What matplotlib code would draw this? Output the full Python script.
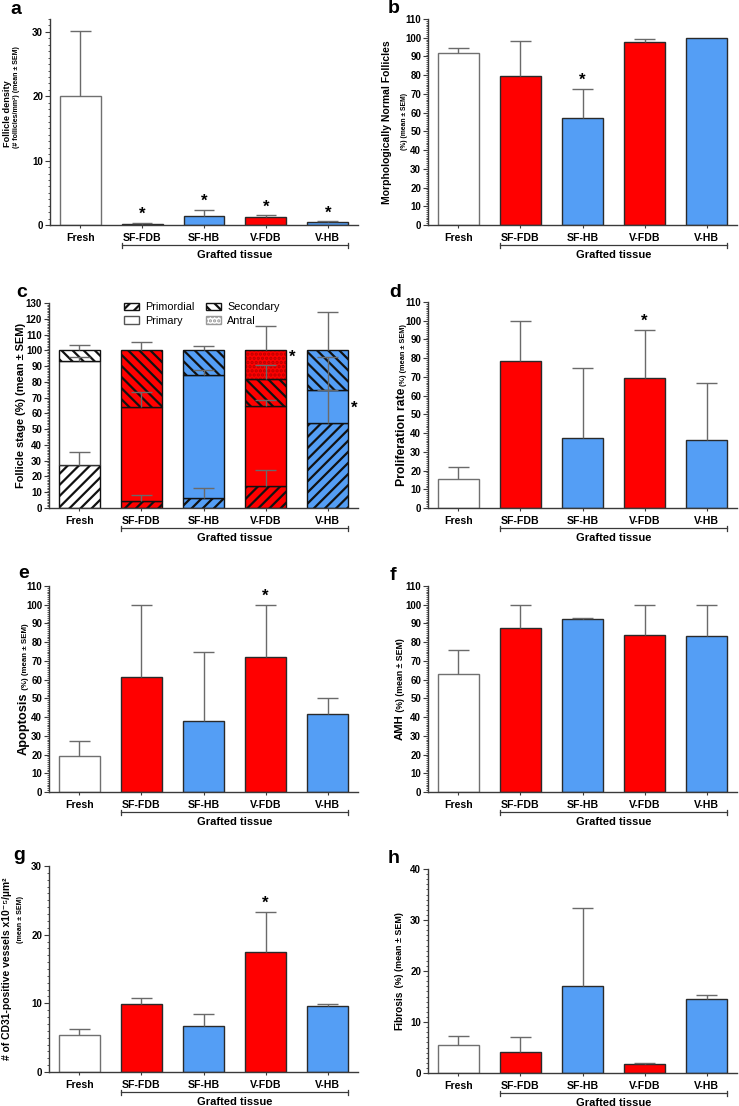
import numpy as np
import matplotlib
matplotlib.use('Agg')
import matplotlib.pyplot as plt
from matplotlib.ticker import MultipleLocator
from matplotlib.patches import Patch
import matplotlib.transforms as mtransforms

plt.rcParams['font.family'] = ['Liberation Sans', 'DejaVu Sans']
plt.rcParams['hatch.linewidth'] = 1.6

groups = ['Fresh', 'SF-FDB', 'SF-HB', 'V-FDB', 'V-HB']

WHITE = '#ffffff'
RED   = '#ff0000'
BLUE  = '#549ef5'
bar_colors = [WHITE, RED, BLUE, RED, BLUE]

# a - follicle density
dens_mean = [20.0, 0.15, 1.4, 1.2, 0.45]
dens_top  = [30.2, 0.3, 2.4, 1.5, 0.6]
dens_star = [False, True, True, True, True]

# b - morphologically normal follicles
norm_mean = [92.0, 79.7, 57.3, 97.7, 100.0]
norm_top  = [94.3, 98.0, 72.7, 99.4, 100.0]
norm_star = [False, False, True, False, False]

# c - follicle stage (stacked)
primordial = [27.0, 4.5, 6.5, 14.0, 54.0]
primary    = [66.5, 59.5, 78.0, 50.5, 21.0]
secondary  = [6.5, 36.0, 15.5, 17.5, 25.0]
antral     = [0.0, 0.0, 0.0, 18.0, 0.0]
primordial_top = [35.6, 8.3, 12.8, 24.0, 75.0]
primary_top    = [96.0, 73.5, 87.5, 68.8, 96.0]
secondary_top  = [103.3, 105.5, 102.8, 91.0, 124.6]
antral_top     = [0.0, 0.0, 0.0, 115.6, 0.0]
stage_star_y   = [None, None, None, 95.5, 63.0]

# d - proliferation
prol_mean = [15.5, 78.5, 37.5, 69.3, 36.5]
prol_top  = [21.7, 100.0, 75.0, 95.2, 66.7]
prol_star = [False, False, False, True, False]

# e - apoptosis
apo_mean = [19.2, 61.2, 37.7, 72.2, 41.8]
apo_top  = [27.2, 100.0, 75.0, 100.0, 50.2]
apo_star = [False, False, False, True, False]

# f - AMH
amh_mean = [62.8, 87.7, 92.5, 84.0, 83.5]
amh_top  = [76.0, 100.0, 93.0, 100.0, 100.0]
amh_star = [False] * 5

# g - CD31 vessels
cd31_mean = [5.35, 9.85, 6.7, 17.5, 9.55]
cd31_top  = [6.3, 10.8, 8.45, 23.35, 9.9]
cd31_star = [False, False, False, True, False]

# h - fibrosis
fib_mean = [5.55, 4.2, 17.1, 1.7, 14.5]
fib_top  = [7.3, 7.1, 32.3, 2.05, 15.2]
fib_star = [False] * 5

W, H = 739, 1106
fig = plt.figure(figsize=(W / 100, H / 100), dpi=100)

AXC = '#3a3a3a'
ERRC = '#6a6a6a'
BW = 0.66

def add_ax(x0, x1, ytop, ybot):
    return fig.add_axes([x0 / W, 1 - ybot / H, (x1 - x0) / W, (ybot - ytop) / H])

def style_ax(ax, ymax, major=10, minor=1):
    ax.set_xlim(-0.49, 4.49)
    ax.set_ylim(0, ymax)
    for s in ['top', 'right']:
        ax.spines[s].set_visible(False)
    for s in ['left', 'bottom']:
        ax.spines[s].set_color(AXC)
        ax.spines[s].set_linewidth(1.0)
    ax.yaxis.set_major_locator(MultipleLocator(major))
    ax.yaxis.set_minor_locator(MultipleLocator(minor))
    ax.tick_params(axis='y', which='major', length=3.5, width=0.8, color=AXC,
                   labelsize=7, pad=1.5)
    ax.tick_params(axis='y', which='minor', length=1.8, width=0.6, color=AXC)
    ax.set_xticks(range(len(groups)))
    ax.set_xticklabels(groups, fontsize=7.6, fontweight='bold')
    ax.tick_params(axis='x', length=2.5, width=0.8, color=AXC, pad=3)
    for lab in ax.get_yticklabels():
        lab.set_fontweight('bold')

def grafted(ax):
    h_px = ax.get_position().height * H
    trans = mtransforms.blended_transform_factory(ax.transData, ax.transAxes)
    y = -20 / h_px
    d = 2.5 / h_px
    x0, x1 = 1 - BW / 2, 4 + BW / 2
    ax.plot([x0, x1], [y, y], color=AXC, lw=0.9, transform=trans, clip_on=False)
    for xx in (x0, x1):
        ax.plot([xx, xx], [y - d, y + d], color=AXC, lw=0.9, transform=trans, clip_on=False)
    ax.text(2.5, -30 / h_px, 'Grafted tissue', transform=trans, ha='center', va='center',
            fontsize=8, fontweight='bold')

def err_up(ax, x, lo, hi, color=ERRC, cw=0.165):
    if hi > lo:
        ax.vlines(x, lo, hi, color=color, lw=1.0, zorder=4)
        ax.hlines(hi, x - cw, x + cw, color=color, lw=1.0, zorder=4)

def star(ax, x, y):
    ax.annotate('*', xy=(x, y), xytext=(0, 6), textcoords='offset points',
                ha='center', va='center', fontsize=12, fontweight='bold')

def ylab(ax, x_px, parts, center=0.5):
    # rotated label made of pieces with different sizes, sharing one baseline
    r = fig.canvas.get_renderer()
    w_px = ax.get_position().width * W
    texts = []
    for s, fs in parts:
        t = ax.text(x_px / w_px, 0, s, transform=ax.transAxes, rotation=90,
                    rotation_mode='anchor', ha='left', va='baseline',
                    fontsize=fs, fontweight='bold')
        texts.append(t)
    axh = ax.get_window_extent(r).height
    lens = [t.get_window_extent(r).height / axh for t in texts]
    y = center - sum(lens) / 2
    for t, L in zip(texts, lens):
        t.set_y(y)
        y += L

def bar_panel(ax, mean, top, stars, ymax, major=10):
    x = np.arange(len(groups))
    edges = ['#707070' if c == WHITE else '#2a2a2a' for c in bar_colors]
    ax.bar(x, mean, width=BW, color=bar_colors, edgecolor=edges, linewidth=1.0, zorder=2)
    for i in x:
        err_up(ax, i, mean[i], top[i])
        if stars[i]:
            star(ax, i, max(top[i], mean[i]))
    style_ax(ax, ymax, major)
    grafted(ax)

def letter(x, y, s):
    fig.text(x / W, 1 - y / H, s, ha='center', va='baseline', fontsize=14, fontweight='bold')

# a
ax_a = add_ax(50, 358, 19, 225)
bar_panel(ax_a, dens_mean, dens_top, dens_star, 32)
ylab(ax_a, -39.5, [('Follicle density', 6.6)], center=0.54)
ylab(ax_a, -32, [('(# follicles/mm²) (mean ± SEM)', 5)], center=0.62)

# b
ax_b = add_ax(428, 737, 19, 225)
bar_panel(ax_b, norm_mean, norm_top, norm_star, 110)
ylab(ax_b, -37.5, [('Morphologically Normal Follicles', 7.5)])
ylab(ax_b, -21.5, [('(%) (mean ± SEM)', 4.9)])

# c - stacked stages
ax_c = add_ax(49, 358, 303, 508)
x = np.arange(len(groups))
stages = [primordial, primary, secondary, antral]
tops = [primordial_top, primary_top, secondary_top, antral_top]
hatches = ['///', '', '\\\\\\', '....']
bottom = np.zeros(len(groups))
for vals, tp, hatch in zip(stages, tops, hatches):
    vals = np.array(vals)
    for i in x:
        if vals[i] <= 0:
            continue
        fc = bar_colors[i]
        if hatch == '....':
            # fine dots on the fill, dark outline drawn separately
            ax_c.bar(i, vals[i], bottom=bottom[i], width=BW, color=fc, edgecolor='#b80000',
                     hatch=hatch, linewidth=0, zorder=2)
            ax_c.bar(i, vals[i], bottom=bottom[i], width=BW, fill=False, edgecolor='#111111',
                     linewidth=1.0, zorder=2)
        else:
            ec = '#111111' if (hatch or fc != WHITE) else '#333333'
            ax_c.bar(i, vals[i], bottom=bottom[i], width=BW, color=fc, edgecolor=ec,
                     hatch=hatch, linewidth=1.0, zorder=2)
        err_up(ax_c, i, bottom[i] + vals[i], tp[i])
    bottom = bottom + vals
for i in x:
    if stage_star_y[i] is not None:
        ax_c.text(i + BW / 2 + 0.1, stage_star_y[i], '*', ha='center', va='center',
                  fontsize=12, fontweight='bold')
style_ax(ax_c, 130)
grafted(ax_c)
ylab(ax_c, -25.5, [('Follicle stage (%) (mean ± SEM)', 7.9)])
handles = [Patch(facecolor='white', edgecolor='#111111', hatch='///', label='Primordial'),
           Patch(facecolor='white', edgecolor='#555555', label='Primary'),
           Patch(facecolor='white', edgecolor='#111111', hatch='\\\\\\', label='Secondary'),
           Patch(facecolor='white', edgecolor='#999999', hatch='....', label='Antral')]
ax_c.legend(handles=handles, ncol=2, loc='upper left', bbox_to_anchor=(0.225, 1.03),
            frameon=False, fontsize=7.8, handlelength=1.4, handleheight=0.7,
            handletextpad=0.6, columnspacing=1.0, labelspacing=0.35, borderpad=0)

# d
ax_d = add_ax(428, 737, 302, 508)
bar_panel(ax_d, prol_mean, prol_top, prol_star, 110)
ylab(ax_d, -23, [('Proliferation rate', 8.8), (' (%) (mean ± SEM)', 5.3)])

# e
ax_e = add_ax(49, 358, 586, 792)
bar_panel(ax_e, apo_mean, apo_top, apo_star, 110)
ylab(ax_e, -22, [('Apoptosis', 9.2), (' (%) (mean ± SEM)', 5.7)])

# f
ax_f = add_ax(428, 737, 586, 792)
bar_panel(ax_f, amh_mean, amh_top, amh_star, 110)
ylab(ax_f, -25, [('AMH', 8.2), (' (%) (mean ± SEM)', 6.3)])

# g
ax_g = add_ax(49, 358, 866, 1072)
bar_panel(ax_g, cd31_mean, cd31_top, cd31_star, 30)
ylab(ax_g, -39, [('# of CD31-positive vessels x10⁻⁵/µm²', 7.5)])
ylab(ax_g, -27.5, [('(mean ± SEM)', 5.1)], center=0.74)

# h
ax_h = add_ax(428, 737, 869, 1073)
bar_panel(ax_h, fib_mean, fib_top, fib_star, 40)
ylab(ax_h, -26, [('Fibrosis', 7.3), (' (%) (mean ± SEM)', 6.4)])

letter(15.5, 14, 'a')
letter(394, 13, 'b')
letter(21.5, 297, 'c')
letter(395, 297, 'd')
letter(23.5, 578, 'e')
letter(393, 580, 'f')
letter(19, 860, 'g')
letter(394, 863, 'h')

fig.savefig('out.png', dpi=100)
